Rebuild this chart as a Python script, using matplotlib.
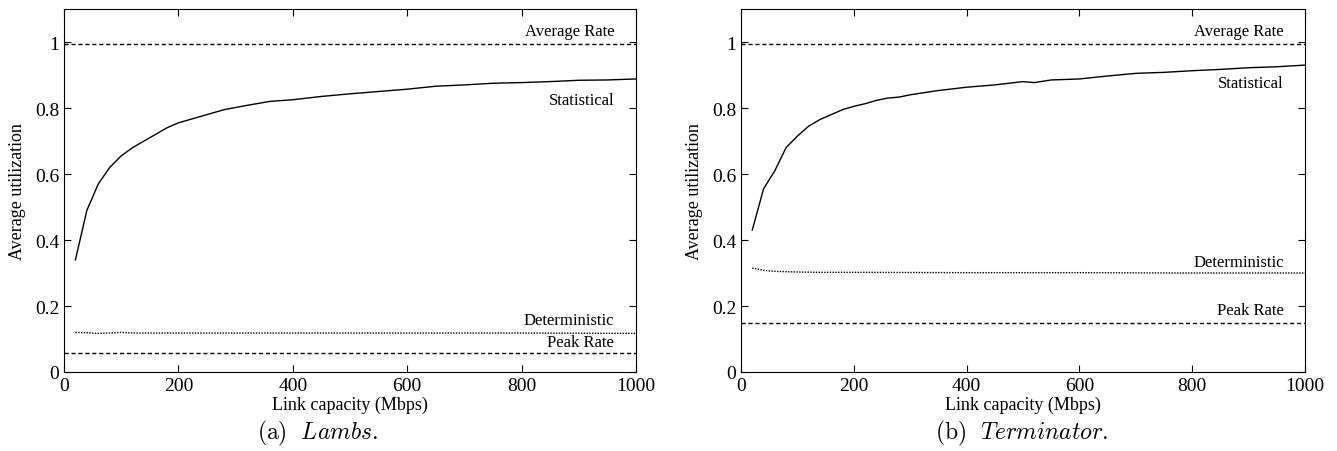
import matplotlib
matplotlib.use("Agg")
import matplotlib.pyplot as plt

plt.rcParams['font.family'] = 'Liberation Serif'
plt.rcParams['mathtext.fontset'] = 'cm'

# Lambs
lambs_x = [20, 40, 60, 80, 100, 120, 140, 160, 180, 200, 240, 280, 320, 360, 400,
           450, 500, 550, 600, 650, 700, 750, 800, 850, 900, 950, 1000]
lambs_stat = [0.34, 0.49, 0.57, 0.62, 0.655, 0.68, 0.70, 0.72, 0.74, 0.755, 0.775,
              0.795, 0.808, 0.82, 0.825, 0.835, 0.843, 0.85, 0.857, 0.866, 0.87,
              0.875, 0.877, 0.88, 0.884, 0.885, 0.888]
lambs_det_x = [20, 40, 60, 80, 100, 120, 200, 400, 600, 800, 1000]
lambs_det = [0.12, 0.119, 0.117, 0.118, 0.12, 0.118, 0.118, 0.118, 0.118, 0.118, 0.117]
lambs_avg = 0.995
lambs_peak = 0.057

# Terminator
term_x = [20, 40, 60, 80, 100, 120, 140, 160, 180, 200, 220, 240, 260, 280, 300,
          350, 400, 450, 500, 520, 550, 600, 650, 700, 750, 800, 850, 900, 950, 1000]
term_stat = [0.43, 0.555, 0.61, 0.68, 0.715, 0.745, 0.765, 0.78, 0.795, 0.805, 0.813,
             0.823, 0.83, 0.833, 0.84, 0.853, 0.863, 0.87, 0.88, 0.877, 0.885, 0.888,
             0.897, 0.905, 0.908, 0.913, 0.917, 0.922, 0.925, 0.93]
term_det_x = [20, 40, 60, 80, 100, 140, 200, 400, 600, 800, 1000]
term_det = [0.315, 0.308, 0.305, 0.304, 0.303, 0.302, 0.302, 0.301, 0.301, 0.3, 0.3]
term_avg = 0.993
term_peak = 0.15

fig = plt.figure(figsize=(13.37, 4.52), dpi=100)
ax1 = fig.add_axes([64/1337, 1-373/452, 572/1337, 363/452])
ax2 = fig.add_axes([741/1337, 1-373/452, 564/1337, 363/452])

def draw(ax, x, stat, dx, det, avg, peak, ylabels):
    ax.plot(x, stat, color='black', lw=1.0)
    ax.plot(dx, det, color='black', lw=1.0, ls=(0, (1, 1)))
    ax.axhline(avg, color='black', lw=1.0, ls=(0, (3, 2)))
    ax.axhline(peak, color='black', lw=1.0, ls=(0, (3, 2)))
    ax.set_xlim(0, 1000)
    ax.set_ylim(0, 1.1)
    ax.set_xticks([0, 200, 400, 600, 800, 1000])
    ax.set_yticks([0, 0.2, 0.4, 0.6, 0.8, 1.0])
    ax.set_yticklabels(['0', '0.2', '0.4', '0.6', '0.8', '1'])
    ax.tick_params(direction='in', top=True, right=True, labelsize=14, length=5)
    ax.set_xlabel('Link capacity (Mbps)', fontsize=13, labelpad=1)
    ax.set_ylabel('Average utilization', fontsize=13, labelpad=6)
    for lab, yy in ylabels:
        ax.text(962, yy, lab, ha='right', va='bottom', fontsize=12)

draw(ax1, lambs_x, lambs_stat, lambs_det_x, lambs_det, lambs_avg, lambs_peak,
     [('Average Rate', 1.01), ('Statistical', 0.8), ('Deterministic', 0.133), ('Peak Rate', 0.068)])
draw(ax2, term_x, term_stat, term_det_x, term_det, term_avg, term_peak,
     [('Average Rate', 1.01), ('Statistical', 0.85), ('Deterministic', 0.31), ('Peak Rate', 0.163)])

fig.text(318/1337, 1-433/452, r'$\mathrm{(a)}\ \ Lambs.$', ha='center', va='center', fontsize=17)
fig.text(1022/1337, 1-433/452, r'$\mathrm{(b)}\ \ Terminator.$', ha='center', va='center', fontsize=17)

fig.savefig('out.png', dpi=100)
